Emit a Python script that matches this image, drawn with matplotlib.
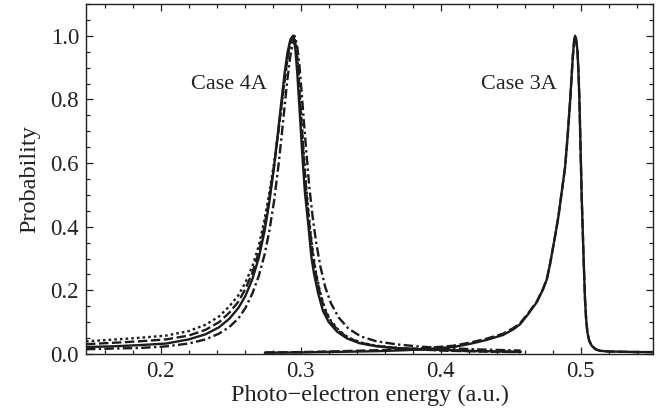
import numpy as np
import matplotlib
matplotlib.use("Agg")
from matplotlib import pyplot as plt
from matplotlib.ticker import MultipleLocator, FormatStrFormatter

# Case 4A, four variants
x4_solid = [0.1466, 0.165, 0.185, 0.204, 0.220, 0.232, 0.2416, 0.249, 0.2555, 0.2605,
            0.2654, 0.2700, 0.2740, 0.2775, 0.2809, 0.2840, 0.2862, 0.2885, 0.2905, 0.2925,
            0.2943, 0.2960, 0.2975, 0.2990, 0.3010, 0.3030, 0.3053, 0.3075, 0.3095, 0.3125,
            0.3159, 0.3200, 0.3260, 0.3330, 0.3420, 0.3530, 0.3680, 0.3850, 0.4050, 0.4300, 0.4570]
y4_solid = [0.022, 0.024, 0.028, 0.033, 0.046, 0.062, 0.084, 0.111, 0.145, 0.183,
            0.235, 0.302, 0.383, 0.476, 0.588, 0.707, 0.796, 0.884, 0.947, 0.987,
            1.000, 0.964, 0.883, 0.778, 0.633, 0.506, 0.410, 0.308, 0.251, 0.189,
            0.135, 0.100, 0.070, 0.049, 0.034, 0.025, 0.019, 0.015, 0.012, 0.009, 0.007]

x4_dotted = [0.1466, 0.165, 0.185, 0.204, 0.220, 0.232, 0.2416, 0.249, 0.2555, 0.2605,
             0.2654, 0.2700, 0.2740, 0.2775, 0.2809, 0.2840, 0.2862, 0.2885, 0.2905, 0.2925,
             0.2950, 0.2968, 0.2983, 0.2998, 0.3018, 0.3040, 0.3063, 0.3085, 0.3105, 0.3135,
             0.3170, 0.3210, 0.3270, 0.3340, 0.3430, 0.3540, 0.3690, 0.3860, 0.4060, 0.4300, 0.4570]
y4_dotted = [0.040, 0.045, 0.051, 0.058, 0.072, 0.092, 0.118, 0.150, 0.185, 0.225,
             0.275, 0.340, 0.420, 0.505, 0.600, 0.700, 0.775, 0.860, 0.925, 0.975,
             1.000, 0.965, 0.890, 0.790, 0.650, 0.520, 0.410, 0.325, 0.265, 0.200,
             0.145, 0.108, 0.075, 0.052, 0.036, 0.026, 0.019, 0.014, 0.011, 0.008, 0.006]

x4_dashed = x4_dotted
y4_dashed = [0.031, 0.035, 0.040, 0.046, 0.058, 0.076, 0.100, 0.130, 0.165, 0.205,
             0.255, 0.320, 0.400, 0.490, 0.590, 0.700, 0.780, 0.865, 0.930, 0.980,
             1.000, 0.960, 0.880, 0.775, 0.635, 0.505, 0.400, 0.315, 0.258, 0.195,
             0.140, 0.104, 0.072, 0.050, 0.035, 0.025, 0.018, 0.014, 0.010, 0.008, 0.006]

x4_dashdot = [0.1466, 0.165, 0.185, 0.204, 0.220, 0.232, 0.2416, 0.249, 0.2555, 0.2605,
              0.2654, 0.2700, 0.2740, 0.2775, 0.2809, 0.2840, 0.2862, 0.2885, 0.2905, 0.2925,
              0.2955, 0.2972, 0.2990, 0.3010, 0.3035, 0.3060, 0.3085, 0.3110, 0.3140, 0.3175,
              0.3215, 0.3270, 0.3340, 0.3430, 0.3540, 0.3690, 0.3860, 0.4060, 0.4300, 0.4570]
y4_dashdot = [0.015, 0.017, 0.019, 0.024, 0.033, 0.046, 0.064, 0.085, 0.112, 0.145,
              0.190, 0.245, 0.310, 0.385, 0.480, 0.590, 0.680, 0.780, 0.865, 0.935,
              1.000, 0.975, 0.910, 0.800, 0.660, 0.530, 0.430, 0.350, 0.275, 0.210,
              0.160, 0.115, 0.080, 0.055, 0.040, 0.030, 0.023, 0.018, 0.014, 0.011]

# Case 3A (variants nearly on top of each other)
x3 = [0.2745, 0.300, 0.330, 0.355, 0.375, 0.395, 0.409, 0.421, 0.4325, 0.4446,
      0.4520, 0.4567, 0.4620, 0.4686, 0.4730, 0.4757, 0.4780, 0.4803, 0.4822, 0.4840,
      0.4864, 0.4888, 0.4905, 0.4924, 0.4935, 0.4943, 0.4952, 0.4959, 0.4966, 0.4976,
      0.4983, 0.4990, 0.4998, 0.5007, 0.5020, 0.5030, 0.5038, 0.5047, 0.5060, 0.5078,
      0.5105, 0.5138, 0.5200, 0.5300, 0.5420, 0.5560]
y3_solid = [0.004, 0.005, 0.007, 0.009, 0.012, 0.017, 0.022, 0.032, 0.044, 0.060,
            0.078, 0.094, 0.123, 0.163, 0.203, 0.234, 0.282, 0.338, 0.385, 0.432,
            0.510, 0.588, 0.680, 0.797, 0.878, 0.935, 0.983, 1.000, 0.990, 0.953,
            0.890, 0.800, 0.650, 0.484, 0.300, 0.172, 0.110, 0.068, 0.042, 0.026,
            0.015, 0.010, 0.008, 0.007, 0.006, 0.006]
y3_dashed = [0.005, 0.006, 0.009, 0.012, 0.015, 0.021, 0.026, 0.036, 0.048, 0.064,
             0.082, 0.097, 0.126, 0.165, 0.205, 0.235, 0.282, 0.338, 0.385, 0.432,
             0.510, 0.588, 0.680, 0.797, 0.878, 0.935, 0.983, 1.000, 0.990, 0.953,
             0.890, 0.800, 0.650, 0.484, 0.300, 0.172, 0.110, 0.068, 0.042, 0.026,
             0.015, 0.010, 0.008, 0.007, 0.006, 0.006]

plt.rcParams['font.family'] = ['Liberation Serif', 'DejaVu Serif']

ink = '#1c1c1c'
lw = 1.7

fig = plt.figure(figsize=(6.63, 4.19), dpi=100)
ax = fig.add_axes([0.1297, 0.1551, 0.8553, 0.8354])

ax.plot(x4_solid, y4_solid, color=ink, lw=lw)
ax.plot(x4_dotted, y4_dotted, color=ink, lw=lw, dashes=(1.1, 1.3))
ax.plot(x4_dashed, y4_dashed, color=ink, lw=lw, dashes=(4.0, 1.5))
ax.plot(x4_dashdot, y4_dashdot, color=ink, lw=lw, dashes=(4.0, 1.4, 1.0, 1.4))

ax.plot(x3, y3_dashed, color=ink, lw=lw, dashes=(4.0, 1.5))
ax.plot(x3, y3_solid, color=ink, lw=lw)

ax.text(0.2490, 0.847, 'Case 4A', fontsize=16, ha='center', va='center', color='#222222')
ax.text(0.4560, 0.847, 'Case 3A', fontsize=16, ha='center', va='center', color='#222222')

ax.set_xlim(0.1466, 0.5516)
ax.set_ylim(0.0, 1.1)
ax.xaxis.set_major_locator(MultipleLocator(0.1))
ax.xaxis.set_minor_locator(MultipleLocator(0.02))
ax.yaxis.set_major_locator(MultipleLocator(0.2))
ax.yaxis.set_minor_locator(MultipleLocator(0.05))
ax.xaxis.set_major_formatter(FormatStrFormatter('%.1f'))
ax.yaxis.set_major_formatter(FormatStrFormatter('%.1f'))
ax.tick_params(which='both', direction='in', top=True, right=True, color='#222222', width=0.9)
ax.tick_params(which='major', length=5, labelsize=16.5, pad=5, labelcolor='#222222')
ax.tick_params(which='minor', length=3)
for s in ax.spines.values():
    s.set_linewidth(1.0)
    s.set_color('#222222')

ax.set_xlabel('Photo\u2212electron energy (a.u.)', fontsize=17.5, color='#222222', labelpad=2)
ax.set_ylabel('Probability', fontsize=17.5, color='#222222', labelpad=7)

fig.savefig('out.png', dpi=100)
